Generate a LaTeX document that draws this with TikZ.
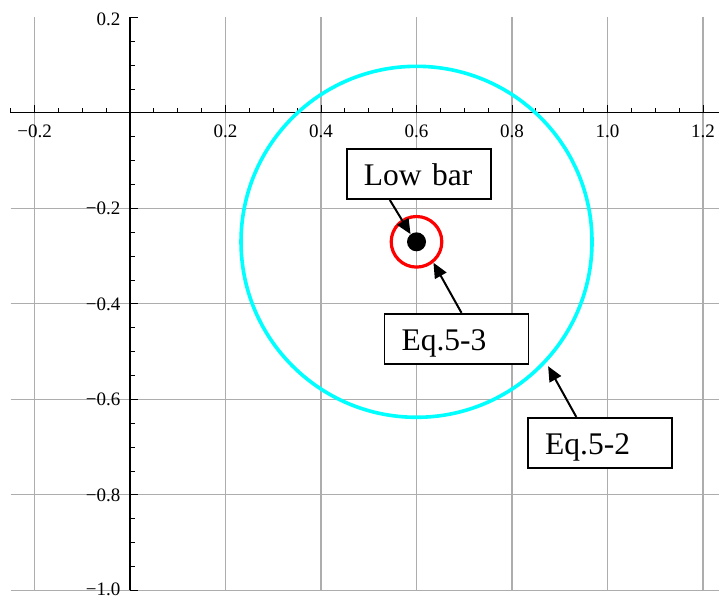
\documentclass[tikz,border=0pt]{standalone}
\usepackage{fontspec}
\setmainfont{Liberation Serif}
\usetikzlibrary{arrows.meta,calc}
\definecolor{cyanline}{RGB}{0,255,255}
\definecolor{redline}{RGB}{255,0,0}
\begin{document}
\begin{tikzpicture}[x=477.5pt,y=477.5pt,
  gridline/.style={draw=black!32,line width=1.2pt},
  axisline/.style={draw=black,line width=1.2pt},
  tickline/.style={draw=black,line width=1pt},
  ticklabel/.style={font=\fontsize{19}{21}\selectfont,inner sep=0pt},
  labelbox/.style={draw=black,line width=1.9pt,fill=white,rectangle,
    minimum width=144pt,minimum height=50pt,text width=110pt,inner xsep=17pt,
    align=left,text height=23pt,text depth=0pt,
    font=\fontsize{31.5}{34}\selectfont},
  arr/.style={-{Triangle[length=15pt,width=13pt]},line width=2pt}]
\useasboundingbox (-0.2723,-1.0201) rectangle (1.2335,0.2364);
\clip (-0.2723,-1.0201) rectangle (1.2335,0.2364);
% grid
\foreach \x in {-0.2,0.2,0.4,0.6,0.8,1.0,1.2}
  \draw[gridline] (\x,-1) -- (\x,0.2);
\foreach \y in {-0.2,-0.4,-0.6,-0.8,-1.0}
  \draw[gridline] (-0.25,\y) -- (1.25,\y);
% axes
\draw[axisline] (-0.25,0) -- (1.25,0);
\draw[axisline] (0,-1) -- (0,0.2);
% ticks
\foreach \i in {-5,...,25}
  \draw[tickline] (\i*0.05,0) -- ++(0,4.5pt);
\foreach \x in {-0.2,0.2,0.4,0.6,0.8,1.0,1.2}
  \draw[tickline] (\x,0) -- ++(0,7.5pt);
\foreach \i in {-20,...,4}
  \draw[tickline] (0,\i*0.05) -- ++(4.5pt,0);
\foreach \y in {0.2,-0.2,-0.4,-0.6,-0.8,-1.0}
  \draw[tickline] (0,\y) -- ++(7.5pt,0);
% tick labels
\foreach \x/\t in {-0.2/{−0.2},0.2/{0.2},0.4/{0.4},0.6/{0.6},0.8/{0.8},1.0/{1.0},1.2/{1.2}}
  \node[ticklabel] (xl\x) at ([yshift=-18.5pt]\x,0) {\t};
\foreach \y/\t/\s in {0.2/{0.2}/-1.5pt,-0.2/{−0.2}/0pt,-0.4/{−0.4}/0pt,-0.6/{−0.6}/0pt,-0.8/{−0.8}/0pt,-1.0/{−1.0}/1pt}
  \node[ticklabel,anchor=east] (yl\y) at ([xshift=-9.5pt,yshift=\s]0,\y) {\t};
% circles
\node[circle,draw=cyanline,line width=3.6pt,minimum size=351pt,inner sep=0pt] (bigc) at (0.6,-0.27) {};
\node[circle,draw=redline,line width=3.2pt,minimum size=50.6pt,inner sep=0pt] (redc) at (0.6,-0.27) {};
\node[circle,fill=black,minimum size=19pt,inner sep=0pt] (dot) at (0.6,-0.27) {};
% label boxes
\node[labelbox] (lowbar) at (0.6052,-0.1280) {Low bar};
\node[labelbox] (eqthree) at (0.6838,-0.4731) {Eq.5-3};
\node[labelbox] (eqtwo) at (0.9847,-0.6911) {Eq.5-2};
% arrows
\draw[arr] ($(lowbar.south west)!0.30!(lowbar.south east)$) -- (dot.128);
\draw[arr] ($(eqthree.north west)!0.534!(eqthree.north east)$) -- (redc.-51);
\draw[arr,shorten >=4pt] ($(eqtwo.north west)!0.336!(eqtwo.north east)$) -- (bigc.-43);
\end{tikzpicture}
\end{document}
